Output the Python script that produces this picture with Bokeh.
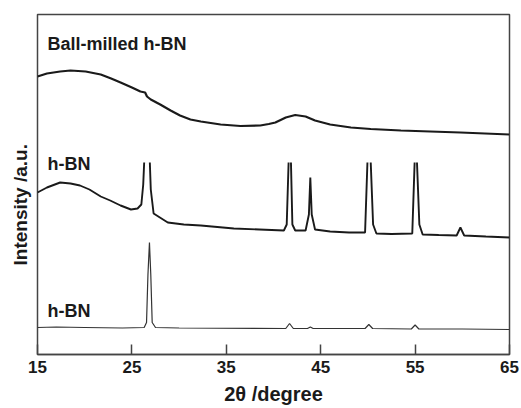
from bokeh.plotting import figure
from bokeh.models import Label, FixedTicker, Range1d, Title
from bokeh.embed import file_html
from bokeh.resources import INLINE

NAN = float("nan")  # off-scale (clipped) peak tops

# 2theta (degree) and intensity (a.u.)
milled_x = [15.0, 16.0, 17.4, 18.5, 20.1, 21.7, 22.8, 23.8, 25.0, 25.9, 26.4, 26.6, 27.0,
            28.0, 29.1, 30.1, 31.2, 32.3, 34.4, 36.5, 38.6, 39.5, 40.2, 41.3, 42.3, 43.4,
            44.4, 46.0, 48.2, 50.3, 53.5, 56.6, 59.8, 65.0]
milled_y = [278, 281, 283, 284, 283, 280, 276, 272, 267, 263, 262, 258, 255,
            250, 244, 239, 235, 233, 230, 228.5, 229, 230.5, 232, 237, 239.5, 238,
            234, 230, 227, 225.5, 224, 223, 222, 220]

hbn_x = [15.0, 16.0, 17.4, 18.5, 19.5, 20.5, 21.7, 22.7, 23.8, 24.9, 25.6, 26.0, 26.2,
         26.3, 26.6, 26.9, 27.0, 27.3, 28.8, 30.5, 32.3, 35.8, 38.5, 41.1, 41.4, 41.6, 41.72, 41.85,
         42.0, 42.3, 43.4, 43.75, 43.9, 44.05, 44.4, 46.0, 48.0, 49.7, 49.95, 50.12, 50.3, 50.55,
         50.9, 52.5, 54.7, 54.95, 55.07, 55.2, 55.45, 55.8, 57.5, 59.4, 59.8, 60.2, 62.5, 65.0]
hbn_y = [162, 167, 172, 171, 169, 165, 158, 154, 149, 145, 146, 150, 170,
         192, NAN, 192, 165, 141, 132, 130, 129, 126, 125, 124, 130, 192, NAN, 192,
         130, 124, 124, 140, 177, 140, 125, 123, 122, 122, 192, NAN, 192, 130,
         121, 120.5, 121, 192, NAN, 192, 130, 120, 119.5, 119, 127, 119, 118, 117]

ref_x = [15.0, 17.0, 20.0, 24.0, 26.3, 26.55, 26.7, 26.86, 27.0, 27.15, 27.5, 30.0,
         41.3, 41.7, 42.1, 43.6, 43.9, 44.2, 49.7, 50.1, 50.5, 54.6, 55.0, 55.4, 60.0, 65.0]
ref_y = [27, 27.5, 27, 26.5, 27, 32, 80, 112, 80, 32, 27, 26.5,
         26, 31, 26, 26, 27.5, 26, 26, 30, 26, 25.5, 29.5, 25.5, 25.5, 25]

x_ticks = [15, 25, 35, 45, 55, 65]
labels = ["Ball-milled h-BN", "h-BN", "h-BN"]
label_y = [311, 191, 44]

FONT = "Liberation Sans"
INK = "#1a1a1a"

p = figure(width=521, height=408, output_backend="svg", toolbar_location=None,
           x_range=Range1d(15, 65), y_range=Range1d(0, 340),
           min_border_left=37, min_border_right=12, min_border_top=14, min_border_bottom=54)
p.background_fill_color = "white"
p.border_fill_color = "white"
p.outline_line_color = "#444444"
p.outline_line_width = 1.5
p.grid.visible = False

p.line(milled_x, milled_y, line_color=INK, line_width=2.2)
p.line(hbn_x, hbn_y, line_color=INK, line_width=1.9)
p.line(ref_x, ref_y, line_color="#333333", line_width=1.2)

for t, yy in zip(labels, label_y):
    p.add_layout(Label(x=16.05, y=yy, text=t, text_font=FONT, text_font_style="bold",
                       text_font_size="18px", text_baseline="middle", text_color=INK))

# y-axis title as a side title, shifted slightly below the frame centre
p.add_layout(Title(text="Intensity /a.u.", align="left", offset=89,
                   text_font=FONT, text_font_style="bold", text_font_size="19px",
                   text_color=INK, standoff=13), "left")

xa = p.xaxis[0]
xa.ticker = FixedTicker(ticks=x_ticks)
xa.minor_tick_line_color = None
xa.major_tick_in = 10
xa.major_tick_out = 0
xa.major_tick_line_color = "#444444"
xa.major_tick_line_width = 1.5
xa.axis_line_color = "#444444"
xa.axis_line_width = 1.5
xa.major_label_text_font = FONT
xa.major_label_text_font_style = "bold"
xa.major_label_text_font_size = "17px"
xa.major_label_text_color = INK
xa.major_label_standoff = 6
xa.axis_label = "2θ /degree"
xa.axis_label_text_font = FONT
xa.axis_label_text_font_style = "bold"
xa.axis_label_text_font_size = "20px"
xa.axis_label_text_color = INK
xa.axis_label_standoff = 7

p.yaxis.visible = False

open("out.html", "w").write(file_html(p, INLINE))
